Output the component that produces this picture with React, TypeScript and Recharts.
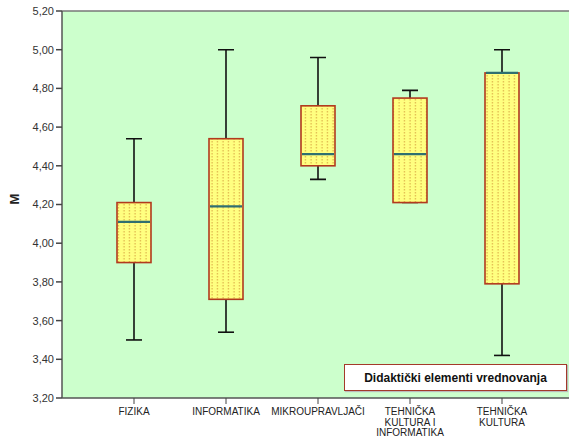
import { Bar, CartesianGrid, ComposedChart, ReferenceLine, XAxis, YAxis } from "recharts"

const categories = ["FIZIKA", "INFORMATIKA", "MIKROUPRAVLJAČI", "TEHNIČKA KULTURA I INFORMATIKA", "TEHNIČKA KULTURA"]
const tickLines = [["FIZIKA"], ["INFORMATIKA"], ["MIKROUPRAVLJAČI"], ["TEHNIČKA", "KULTURA I", "INFORMATIKA"], ["TEHNIČKA", "KULTURA"]]
const mins = [3.5, 3.54, 4.33, 4.21, 3.42]
const q1s = [3.9, 3.71, 4.4, 4.21, 3.79]
const medians = [4.11, 4.19, 4.46, 4.46, 4.88]
const q3s = [4.21, 4.54, 4.71, 4.75, 4.88]
const maxs = [4.54, 5.0, 4.96, 4.79, 5.0]
const yTicks = [3.2, 3.4, 3.6, 3.8, 4.0, 4.2, 4.4, 4.6, 4.8, 5.0, 5.2]
const legendTitle = "Didaktički elementi vrednovanja"

const data = categories.map((name, i) => ({
  name,
  whisker: [mins[i], maxs[i]],
  box: [q1s[i], q3s[i]],
  median: medians[i],
  q1: q1s[i],
  q3: q3s[i],
}))

const font = "'Liberation Sans', Arial, sans-serif"

const WhiskerShape = (props: any) => {
  const { x, y, width, height } = props
  const cx = x + width / 2
  return (
    <g stroke="#111" strokeWidth={1.6}>
      <line x1={cx} x2={cx} y1={y} y2={y + height} />
      <line x1={x} x2={x + width} y1={y} y2={y} />
      <line x1={x} x2={x + width} y1={y + height} y2={y + height} />
    </g>
  )
}

const BoxShape = (props: any) => {
  const { x, y, width, height, payload } = props
  // median placed on the same linear scale as the box edges
  const my = y + (height * (payload.q3 - payload.median)) / (payload.q3 - payload.q1)
  return (
    <g>
      <rect x={x} y={y} width={width} height={height} fill="url(#dots)" stroke="#b23a1e" strokeWidth={1.6} />
      <line x1={x + 1} x2={x + width - 1} y1={my} y2={my} stroke="#2f6f70" strokeWidth={2.2} />
    </g>
  )
}

const XTick = (props: any) => {
  const { x, y, payload } = props
  const lines = tickLines[payload.index] || [payload.value]
  return (
    <text x={x} y={y + 9} textAnchor="middle" fontSize={10} fill="#222" fontFamily={font}>
      {lines.map((l, i) => (
        <tspan key={i} x={x} dy={i === 0 ? 0 : 10.5}>{l}</tspan>
      ))}
    </text>
  )
}

const App = () => {
  return (
    <div style={{ position: "absolute", left: 0, top: 0, width: 569, height: 437, background: "#fff" }}>
      <ComposedChart width={569} height={437} data={data} margin={{ top: 11, right: 0, bottom: 0, left: 0 }}>
        <defs>
          <pattern id="dots" patternUnits="userSpaceOnUse" width={5.5} height={3}>
            <rect width={5.5} height={3} fill="#ffff80" />
            <rect x={2.5} y={0} width={1} height={1.5} fill="#d9a640" />
          </pattern>
        </defs>
        <CartesianGrid fill="#ccffcc" horizontal={false} vertical={false} />
        <XAxis
          xAxisId="main"
          dataKey="name"
          type="category"
          padding={{ left: 26, right: 21 }}
          height={39}
          tick={<XTick />}
          tickLine={{ stroke: "#444" }}
          tickSize={6}
          axisLine={{ stroke: "#555", strokeWidth: 1.5 }}
          interval={0}
        />
        <XAxis xAxisId="w" dataKey="name" type="category" padding={{ left: 26, right: 21 }} hide />
        <YAxis
          type="number"
          domain={[3.2, 5.2]}
          ticks={yTicks}
          width={62}
          tickFormatter={(v: number) => v.toFixed(2).replace(".", ",")}
          tick={{ fontSize: 11, fill: "#333", fontFamily: font }}
          tickLine={{ stroke: "#444", strokeWidth: 1.5 }}
          tickSize={6}
          axisLine={{ stroke: "#555", strokeWidth: 1.5 }}
          allowDataOverflow
          label={{ value: "M", angle: -90, position: "insideLeft", offset: 14, style: { fontSize: 13, fontWeight: "bold", fill: "#222", fontFamily: font } }}
        />
        <ReferenceLine y={5.2} stroke="#777" strokeWidth={1.5} />
        <Bar xAxisId="w" dataKey="whisker" barSize={16} shape={<WhiskerShape />} isAnimationActive={false} />
        <Bar xAxisId="main" dataKey="box" barSize={34} shape={<BoxShape />} isAnimationActive={false} />
      </ComposedChart>
      <div
        style={{
          position: "absolute",
          left: 344,
          top: 364,
          width: 221,
          height: 25,
          background: "#fff",
          border: "1.5px solid #a33a2a",
          boxShadow: "1px 1px 1px #bbb",
          display: "flex",
          alignItems: "center",
          justifyContent: "center",
          fontFamily: font,
          fontWeight: "bold",
          fontSize: 12,
          color: "#111",
        }}
      >
        {legendTitle}
      </div>
    </div>
  )
}

export default App
